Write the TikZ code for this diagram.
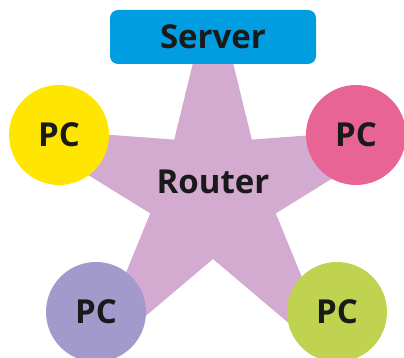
\documentclass[tikz,border=0pt]{standalone}
\usepackage{fontspec}
\setmainfont{Open Sans}
\usepackage{tikz}
\usetikzlibrary{positioning}
\definecolor{srvblue}{RGB}{0,158,224}
\definecolor{starlilac}{RGB}{211,170,208}
\definecolor{pcyellow}{RGB}{255,230,0}
\definecolor{pcpink}{RGB}{232,100,148}
\definecolor{pcviolet}{RGB}{162,154,203}
\definecolor{pcgreen}{RGB}{191,211,80}
\definecolor{inkdark}{RGB}{26,26,26}
\tikzset{
    lbl/.style={font=\fontsize{33}{36}\selectfont\bfseries, text=inkdark},
    srvbox/.style={rectangle, rounded corners=8pt, fill=srvblue, lbl,
                   minimum width=206pt, minimum height=54pt, inner sep=0pt},
    pcnode/.style={circle, lbl, minimum size=100pt, inner sep=0pt},
}

\begin{document}
\begin{tikzpicture}[x=1pt, y=1pt]
    \useasboundingbox (0,0) rectangle (404,-358);
    \clip (0,0) rectangle (404,-358);
    % router star, top tip tucked under the server box
    \begin{scope}
        \clip (0,-16) rectangle (404,-358);
        \fill[starlilac, shift={(213,-193)}] (90:212)
            \foreach \a in {126,198,270,342,54} {-- (\a:66) -- (\a+36:212)} -- cycle;
    \end{scope}
    \node[lbl] (router) at (213,-182) {Router};
    \node[srvbox] (server) at (213,-37) {Server};
    \node[pcnode, fill=pcyellow] (pcA) at (59,-135) {PC};
    \node[pcnode, fill=pcpink] (pcB) at (356,-135) {PC};
    \node[pcnode, fill=pcviolet] (pcC) at (96,-312) {PC};
    \node[pcnode, fill=pcgreen] (pcD) at (337,-312) {PC};
\end{tikzpicture}
\end{document}
